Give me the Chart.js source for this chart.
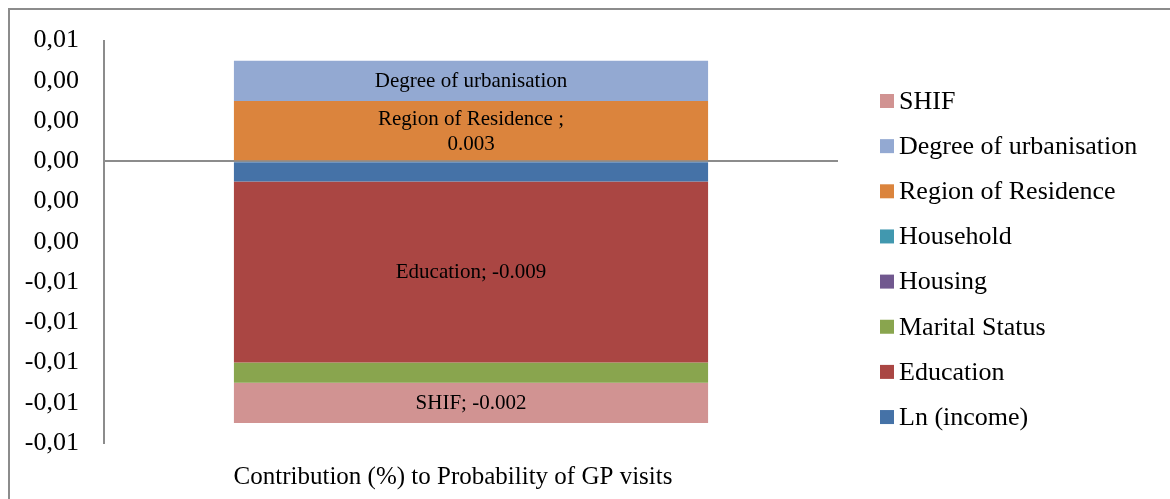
<!DOCTYPE html>
<html>
<head>
<meta charset="utf-8">
<title>Contribution to Probability of GP visits</title>
<script src="https://cdn.jsdelivr.net/npm/chart.js@4.4.1/dist/chart.umd.min.js"></script>
<style>
  html, body { margin: 0; padding: 0; background: #fff; }
  #wrap { width: 1170px; height: 499px; position: relative; }
</style>
</head>
<body>
<div id="wrap"><canvas id="contrib"></canvas></div>
<script>
const categories = ['Contribution (%) to Probability of GP visits'];

// stacking order, from the zero line outwards
const seriesNames = ['Ln (income)', 'Education', 'Marital Status', 'Housing', 'Household', 'Region of Residence', 'Degree of urbanisation', 'SHIF'];
const seriesValues = [-0.001, -0.009, -0.001, 0, 0, 0.003, 0.002, -0.002];
const seriesColors = ['#4572a7', '#aa4643', '#89a54e', '#71588f', '#4198af', '#db843d', '#93a9d2', '#d19392'];

const yTickValues = [-0.014, -0.012, -0.010, -0.008, -0.006, -0.004, -0.002, 0, 0.002, 0.004, 0.006];
const yTickLabels = ['-0,01', '-0,01', '-0,01', '-0,01', '-0,01', '0,00', '0,00', '0,00', '0,00', '0,00', '0,01'];

const FONT = '"Liberation Serif", "Times New Roman", serif';
const AXIS_GREY = '#8c8c8c';

// segments that get a text label inside the bar
const labelled = ['Degree of urbanisation', 'Region of Residence', 'Education', 'SHIF'];
function labelLines(name, value) {
  if (name === 'Degree of urbanisation') return [name];
  if (name === 'Region of Residence') return [name + ' ;', value.toFixed(3)];
  return [name + '; ' + value.toFixed(3)];
}

const frame = {
  id: 'frame',
  beforeDraw(chart) {
    const ctx = chart.ctx;
    ctx.save();
    ctx.fillStyle = '#fff';
    ctx.fillRect(0, 0, chart.width, chart.height);
    ctx.strokeStyle = AXIS_GREY;
    ctx.lineWidth = 2;
    ctx.beginPath();
    ctx.moveTo(9, chart.height);
    ctx.lineTo(9, 9);
    ctx.lineTo(chart.width, 9);
    ctx.stroke();
    ctx.restore();
  }
};

const segmentText = {
  id: 'segmentText',
  afterDatasetsDraw(chart) {
    const ctx = chart.ctx;
    ctx.save();
    ctx.font = '21px ' + FONT;
    ctx.fillStyle = '#000';
    ctx.textAlign = 'center';
    ctx.textBaseline = 'middle';
    chart.data.datasets.forEach((ds, i) => {
      if (!labelled.includes(ds.label)) return;
      const bar = chart.getDatasetMeta(i).data[0];
      const lines = labelLines(ds.label, ds.data[0]);
      const mid = (bar.y + bar.base) / 2;
      const lh = 25;
      lines.forEach((t, k) => {
        ctx.fillText(t, bar.x, mid + 1 + (k - (lines.length - 1) / 2) * lh);
      });
    });
    ctx.restore();
  }
};

// legend on the right, listed top-down in reverse stacking order
const sideLegend = {
  id: 'sideLegend',
  afterDraw(chart) {
    const ctx = chart.ctx;
    const x = chart.chartArea.right + 42;
    ctx.save();
    ctx.font = '26px ' + FONT;
    ctx.textBaseline = 'middle';
    chart.data.datasets.slice().reverse().forEach((ds, i) => {
      const y = 101 + i * 45.15;
      ctx.fillStyle = ds.backgroundColor;
      ctx.fillRect(x, y - 7, 14, 14);
      ctx.fillStyle = '#000';
      ctx.fillText(ds.label, x + 19, y + 1);
    });
    ctx.restore();
  }
};

new Chart(document.getElementById('contrib'), {
  type: 'bar',
  data: {
    labels: categories,
    datasets: seriesNames.map((name, i) => ({
      label: name,
      data: [seriesValues[i]],
      backgroundColor: seriesColors[i],
      borderWidth: 0,
      categoryPercentage: 1,
      barPercentage: 0.646
    }))
  },
  options: {
    responsive: true,
    maintainAspectRatio: false,
    animation: false,
    layout: { padding: { top: 38, left: 0, right: 332, bottom: 7 } },
    plugins: {
      legend: { display: false },
      tooltip: { enabled: false }
    },
    scales: {
      x: {
        stacked: true,
        grid: { display: false, drawTicks: false },
        border: { display: false },
        ticks: { color: '#000', font: { family: FONT, size: 25 }, padding: 19, labelOffset: -18 },
        afterFit: (scale) => { scale.height = 49; }
      },
      y: {
        stacked: true,
        min: -0.014,
        max: 0.006,
        z: 1,
        afterBuildTicks: (scale) => {
          scale.ticks = yTickValues.map(v => ({ value: v }));
        },
        afterFit: (scale) => { scale.width = 104; },
        grid: {
          drawTicks: false,
          lineWidth: 2,
          color: (c) => (c.tick && c.tick.value === 0 ? AXIS_GREY : 'rgba(0,0,0,0)')
        },
        border: { display: true, color: AXIS_GREY, width: 2 },
        ticks: {
          color: '#000',
          font: { family: FONT, size: 26 },
          padding: 25,
          callback: (v, i) => yTickLabels[i]
        }
      }
    }
  },
  plugins: [frame, segmentText, sideLegend]
});
</script>
</body>
</html>
